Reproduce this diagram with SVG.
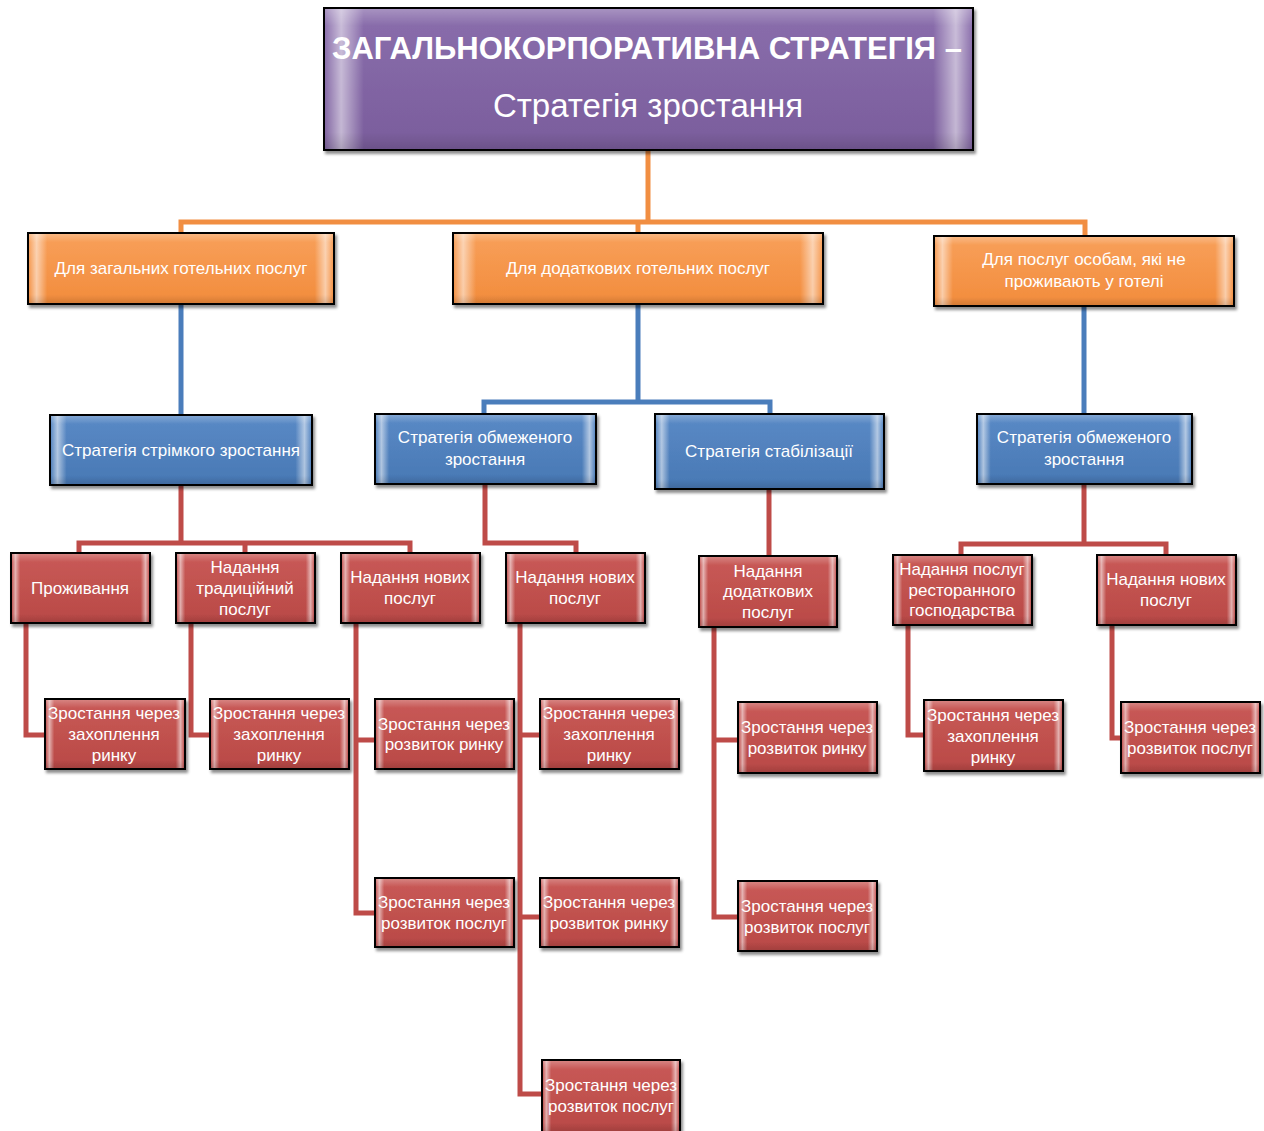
<svg xmlns="http://www.w3.org/2000/svg" width="1264" height="1131" viewBox="0 0 1264 1131">
<defs>
  <linearGradient id="gP" x1="0" y1="0" x2="0" y2="1"><stop offset="0" stop-color="#8a6eac"/><stop offset="1" stop-color="#7a5d9c"/></linearGradient>
  <linearGradient id="gO" x1="0" y1="0" x2="0" y2="1"><stop offset="0" stop-color="#f8a05a"/><stop offset="1" stop-color="#f28c3c"/></linearGradient>
  <linearGradient id="gB" x1="0" y1="0" x2="0" y2="1"><stop offset="0" stop-color="#5a8ac6"/><stop offset="1" stop-color="#4878b4"/></linearGradient>
  <linearGradient id="gR" x1="0" y1="0" x2="0" y2="1"><stop offset="0" stop-color="#c95a57"/><stop offset="1" stop-color="#b94946"/></linearGradient>
  <linearGradient id="bev" x1="0" y1="0" x2="1" y2="0">
    <stop offset="0" stop-color="#fff" stop-opacity="0.05"/>
    <stop offset="0.025" stop-color="#fff" stop-opacity="0.55"/>
    <stop offset="0.06" stop-color="#fff" stop-opacity="0"/>
    <stop offset="0.94" stop-color="#fff" stop-opacity="0"/>
    <stop offset="0.975" stop-color="#fff" stop-opacity="0.55"/>
    <stop offset="1" stop-color="#fff" stop-opacity="0.05"/>
  </linearGradient>
  <linearGradient id="bevV" x1="0" y1="0" x2="0" y2="1">
    <stop offset="0" stop-color="#fff" stop-opacity="0.25"/>
    <stop offset="0.12" stop-color="#fff" stop-opacity="0"/>
    <stop offset="0.88" stop-color="#000" stop-opacity="0"/>
    <stop offset="1" stop-color="#000" stop-opacity="0.12"/>
  </linearGradient>
  <filter id="sh" x="-10%" y="-10%" width="125%" height="130%">
    <feDropShadow dx="2" dy="3" stdDeviation="1.5" flood-color="#000" flood-opacity="0.45"/>
  </filter>
</defs>
<style>
  .box { stroke: #000; stroke-width: 2; filter: url(#sh); }
  .p { fill: url(#gP); }
  .o { fill: url(#gO); }
  .b { fill: url(#gB); }
  .r { fill: url(#gR); }
  .hl { fill: url(#bev); stroke: none; }
  .hv { fill: url(#bevV); stroke: none; }
  text { font-family: "Liberation Sans", "DejaVu Sans", sans-serif; fill: #fff; text-anchor: middle; }
  .t1 { font-size: 31px; font-weight: bold; }
  .t2 { font-size: 33px; }
  .to { font-size: 17px; }
  .tb { font-size: 17px; }
  .tr { font-size: 17px; }
  .co { stroke: #f18e42; stroke-width: 5; fill: none; }
  .cb { stroke: #4a7dbb; stroke-width: 5; fill: none; }
  .cr { stroke: #be4b48; stroke-width: 5; fill: none; }
</style>
<rect width="1264" height="1131" fill="#fff"/>

<g id="connectors">
  <path class="co" d="M648 150 V222 M181 233 V222 H1085 V236 M638 222 V233"/>
  <path class="cb" d="M181 304 V415 M638 304 V402 M484 414 V402 H770 V414 M1084 306 V414"/>
  <path class="cr" d="M181 485 V543 M79 553 V543 H410 V553 M245 543 V553"/>
  <path class="cr" d="M485 484 V543 H576 V553"/>
  <path class="cr" d="M769 489 V556"/>
  <path class="cr" d="M1084 484 V544 M961 555 V544 H1166 V555"/>
  <path class="cr" d="M26 620 V735 H45"/>
  <path class="cr" d="M191 620 V735 H210"/>
  <path class="cr" d="M356 620 V913 H375 M356 740 H375"/>
  <path class="cr" d="M520 620 V1094 H542 M520 735 H540 M520 917 H540"/>
  <path class="cr" d="M714 624 V917 H738 M714 740 H738"/>
  <path class="cr" d="M908 622 V735 H924"/>
  <path class="cr" d="M1112 622 V738 H1121"/>
</g>

<g id="title">
  <rect class="box p" x="324" y="8" width="649" height="142"/>
  <rect class="hl" x="325" y="9" width="647" height="140"/>
  <rect class="hv" x="325" y="9" width="647" height="140"/>
  <text class="t1" x="647" y="59">ЗАГАЛЬНОКОРПОРАТИВНА СТРАТЕГІЯ –</text>
  <text class="t2" x="648" y="117">Стратегія зростання</text>
</g>

<g id="o1"><rect class="box o" x="28" y="233" width="306" height="71"/><rect class="hl" x="29" y="234" width="304" height="69"/><rect class="hv" x="29" y="234" width="304" height="69"/>
  <text class="to" x="181" y="274">Для загальних готельних послуг</text></g>
<g id="o2"><rect class="box o" x="453" y="233" width="370" height="71"/><rect class="hl" x="454" y="234" width="368" height="69"/><rect class="hv" x="454" y="234" width="368" height="69"/>
  <text class="to" x="638" y="274">Для додаткових готельних послуг</text></g>
<g id="o3"><rect class="box o" x="934" y="236" width="300" height="70"/><rect class="hl" x="935" y="237" width="298" height="68"/><rect class="hv" x="935" y="237" width="298" height="68"/>
  <text class="to" x="1084" y="265">Для послуг особам, які не</text><text class="to" x="1084" y="287">проживають у готелі</text></g>

<g id="b1"><rect class="box b" x="50" y="415" width="262" height="70"/><rect class="hl" x="51" y="416" width="260" height="68"/><rect class="hv" x="51" y="416" width="260" height="68"/>
  <text class="tb" x="181" y="456">Стратегія стрімкого зростання</text></g>
<g id="b2"><rect class="box b" x="375" y="414" width="221" height="70"/><rect class="hl" x="376" y="415" width="219" height="68"/><rect class="hv" x="376" y="415" width="219" height="68"/>
  <text class="tb" x="485" y="443">Стратегія обмеженого</text><text class="tb" x="485" y="465">зростання</text></g>
<g id="b3"><rect class="box b" x="655" y="414" width="229" height="75"/><rect class="hl" x="656" y="415" width="227" height="73"/><rect class="hv" x="656" y="415" width="227" height="73"/>
  <text class="tb" x="769" y="457">Стратегія стабілізації</text></g>
<g id="b4"><rect class="box b" x="977" y="414" width="215" height="70"/><rect class="hl" x="978" y="415" width="213" height="68"/><rect class="hv" x="978" y="415" width="213" height="68"/>
  <text class="tb" x="1084" y="443">Стратегія обмеженого</text><text class="tb" x="1084" y="465">зростання</text></g>

<g id="r1"><rect class="box r" x="11" y="553" width="139" height="70"/><rect class="hl" x="12" y="554" width="137" height="68"/><rect class="hv" x="12" y="554" width="137" height="68"/>
  <text class="tr" x="80" y="594">Проживання</text></g>
<g id="r2"><rect class="box r" x="176" y="553" width="139" height="70"/><rect class="hl" x="177" y="554" width="137" height="68"/><rect class="hv" x="177" y="554" width="137" height="68"/>
  <text class="tr" x="245" y="573">Надання</text><text class="tr" x="245" y="594">традиційний</text><text class="tr" x="245" y="615">послуг</text></g>
<g id="r3"><rect class="box r" x="341" y="553" width="139" height="70"/><rect class="hl" x="342" y="554" width="137" height="68"/><rect class="hv" x="342" y="554" width="137" height="68"/>
  <text class="tr" x="410" y="583">Надання нових</text><text class="tr" x="410" y="604">послуг</text></g>
<g id="r4"><rect class="box r" x="506" y="553" width="139" height="70"/><rect class="hl" x="507" y="554" width="137" height="68"/><rect class="hv" x="507" y="554" width="137" height="68"/>
  <text class="tr" x="575" y="583">Надання нових</text><text class="tr" x="575" y="604">послуг</text></g>
<g id="r5"><rect class="box r" x="699" y="556" width="138" height="71"/><rect class="hl" x="700" y="557" width="136" height="69"/><rect class="hv" x="700" y="557" width="136" height="69"/>
  <text class="tr" x="768" y="577">Надання</text><text class="tr" x="768" y="597">додаткових</text><text class="tr" x="768" y="618">послуг</text></g>
<g id="r6"><rect class="box r" x="893" y="555" width="139" height="70"/><rect class="hl" x="894" y="556" width="137" height="68"/><rect class="hv" x="894" y="556" width="137" height="68"/>
  <text class="tr" x="962" y="575">Надання послуг</text><text class="tr" x="962" y="596">ресторанного</text><text class="tr" x="962" y="616">господарства</text></g>
<g id="r7"><rect class="box r" x="1097" y="555" width="139" height="70"/><rect class="hl" x="1098" y="556" width="137" height="68"/><rect class="hv" x="1098" y="556" width="137" height="68"/>
  <text class="tr" x="1166" y="585">Надання нових</text><text class="tr" x="1166" y="606">послуг</text></g>

<g id="l1"><rect class="box r" x="45" y="699" width="140" height="70"/><rect class="hl" x="46" y="700" width="138" height="68"/><rect class="hv" x="46" y="700" width="138" height="68"/>
  <text class="tr" x="114" y="719">Зростання через</text><text class="tr" x="114" y="740">захоплення</text><text class="tr" x="114" y="761">ринку</text></g>
<g id="l2"><rect class="box r" x="210" y="699" width="139" height="70"/><rect class="hl" x="211" y="700" width="137" height="68"/><rect class="hv" x="211" y="700" width="137" height="68"/>
  <text class="tr" x="279" y="719">Зростання через</text><text class="tr" x="279" y="740">захоплення</text><text class="tr" x="279" y="761">ринку</text></g>
<g id="l3"><rect class="box r" x="375" y="699" width="139" height="70"/><rect class="hl" x="376" y="700" width="137" height="68"/><rect class="hv" x="376" y="700" width="137" height="68"/>
  <text class="tr" x="444" y="730">Зростання через</text><text class="tr" x="444" y="750">розвиток ринку</text></g>
<g id="l4"><rect class="box r" x="375" y="878" width="139" height="69"/><rect class="hl" x="376" y="879" width="137" height="67"/><rect class="hv" x="376" y="879" width="137" height="67"/>
  <text class="tr" x="444" y="908">Зростання через</text><text class="tr" x="444" y="929">розвиток послуг</text></g>
<g id="l5"><rect class="box r" x="540" y="699" width="139" height="70"/><rect class="hl" x="541" y="700" width="137" height="68"/><rect class="hv" x="541" y="700" width="137" height="68"/>
  <text class="tr" x="609" y="719">Зростання через</text><text class="tr" x="609" y="740">захоплення</text><text class="tr" x="609" y="761">ринку</text></g>
<g id="l6"><rect class="box r" x="540" y="878" width="139" height="69"/><rect class="hl" x="541" y="879" width="137" height="67"/><rect class="hv" x="541" y="879" width="137" height="67"/>
  <text class="tr" x="609" y="908">Зростання через</text><text class="tr" x="609" y="929">розвиток ринку</text></g>
<g id="l7"><rect class="box r" x="542" y="1060" width="138" height="72"/><rect class="hl" x="543" y="1061" width="136" height="70"/><rect class="hv" x="543" y="1061" width="136" height="70"/>
  <text class="tr" x="611" y="1091">Зростання через</text><text class="tr" x="611" y="1112">розвиток послуг</text></g>
<g id="l8"><rect class="box r" x="738" y="702" width="139" height="71"/><rect class="hl" x="739" y="703" width="137" height="69"/><rect class="hv" x="739" y="703" width="137" height="69"/>
  <text class="tr" x="807" y="733">Зростання через</text><text class="tr" x="807" y="754">розвиток ринку</text></g>
<g id="l9"><rect class="box r" x="738" y="881" width="139" height="70"/><rect class="hl" x="739" y="882" width="137" height="68"/><rect class="hv" x="739" y="882" width="137" height="68"/>
  <text class="tr" x="807" y="912">Зростання через</text><text class="tr" x="807" y="933">розвиток послуг</text></g>
<g id="l10"><rect class="box r" x="924" y="700" width="139" height="71"/><rect class="hl" x="925" y="701" width="137" height="69"/><rect class="hv" x="925" y="701" width="137" height="69"/>
  <text class="tr" x="993" y="721">Зростання через</text><text class="tr" x="993" y="742">захоплення</text><text class="tr" x="993" y="763">ринку</text></g>
<g id="l11"><rect class="box r" x="1121" y="702" width="139" height="71"/><rect class="hl" x="1122" y="703" width="137" height="69"/><rect class="hv" x="1122" y="703" width="137" height="69"/>
  <text class="tr" x="1190" y="733">Зростання через</text><text class="tr" x="1190" y="754">розвиток послуг</text></g>
</svg>
